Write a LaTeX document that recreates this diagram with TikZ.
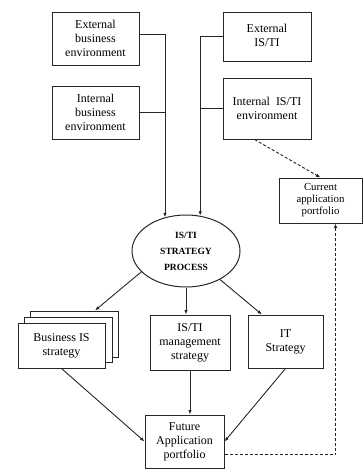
\documentclass[tikz,border=0pt]{standalone}
\usepackage{fontspec}
\setmainfont{Liberation Serif}
\usetikzlibrary{arrows.meta,calc,shapes.geometric}
\newcommand{\uptext}[2]{\raisebox{#1}{\begin{tabular}{@{}c@{}}#2\end{tabular}}}
\begin{document}
\begin{tikzpicture}[x=1pt,y=-1pt,
  box/.style={draw=black!85, line width=1pt, fill=white, inner sep=0pt, align=center,
    font=\fontsize{12}{14}\selectfont},
  smallbox/.style={box, font=\fontsize{10.8}{12}\selectfont},
  arr/.style={-{Latex[length=4.5pt,width=3.5pt]}, line width=0.9pt, draw=black!85},
  conn/.style={line width=0.9pt, draw=black!85},
  dashline/.style={dashed, dash pattern=on 3pt off 2pt, line width=0.9pt, draw=black!85}
]
\useasboundingbox (0,0) rectangle (363,471);

% top boxes
\node[box, minimum width=87pt, minimum height=53pt] (b1) at (95.5,38.5) {External\\business\\environment};
\node[box, minimum width=87pt, minimum height=53pt] (b2) at (95.5,112.5) {Internal\\business\\environment};
\node[box, minimum width=88pt, minimum height=49pt] (b3) at (267,36.5) {\uptext{5pt}{External\\IS/TI}};
\node[box, minimum width=88pt, minimum height=61pt] (b4) at (267,108.5) {Internal~ IS/TI\\environment};
\node[smallbox, minimum width=83pt, minimum height=45pt] (cur) at (320.5,200.5) {Current\\application\\portfolio};

% ellipse
\node[draw=black!85, line width=1pt, ellipse, minimum width=108pt, minimum height=72pt, inner sep=0pt,
  align=center, font=\fontsize{9.5}{16}\selectfont\bfseries] (ell) at (186,251) {IS/TI\\STRATEGY\\PROCESS};

% stacked pages
\node[box, minimum width=88pt, minimum height=46pt] (bizb) at (74.5,334) {};
\node[box, minimum width=88pt, minimum height=45pt] (bizm) at (68.5,339.5) {};
\node[box, minimum width=87pt, minimum height=45pt] (biz) at (61.5,345.5) {\uptext{3pt}{Business IS\\strategy}};

\node[box, minimum width=80pt, minimum height=55pt] (mid) at (190,342.5) {IS/TI\\management\\strategy};
\node[box, minimum width=75pt, minimum height=53pt] (it) at (285.5,341.5) {\uptext{8pt}{IT\\Strategy}};
\node[box, minimum width=79pt, minimum height=53pt] (fut) at (184.5,441.5) {Future\\Application\\portfolio};

% coordinates
\coordinate (bizt) at ($(bizb.north west)!0.73!(bizb.north east)$);
\coordinate (itt) at ($(it.north west)!0.19!(it.north east)$);
\coordinate (b4d) at ($(b4.south west)!0.36!(b4.south east)$);
\coordinate (curb) at ($(cur.south)+(15,0)$);

% connectors into the process
\draw[arr] (b1.5) -| (ell.122);
\draw[conn] (b2.east) -- (b2.east -| ell.122);
\draw[arr] (b3.west) -| (ell.68);
\draw[conn] (b4.west) -- (b4.west -| ell.68);

% process outputs
\draw[arr] (ell.205) -- (bizt);
\draw[arr] (ell.south) -- (ell.south |- mid.north);
\draw[arr] (ell.-40) -- (itt);

% into future portfolio
\draw[arr] (biz.south) -- (fut.west);
\draw[arr] (mid.south) -- (mid.south |- fut.north);
\draw[arr] (it.south) -- (fut.east);

% dashed
\draw[dashline, arr] (b4d) -- (cur.north);
\draw[dashline, arr] (fut.-18) -| (curb);
\end{tikzpicture}
\end{document}
